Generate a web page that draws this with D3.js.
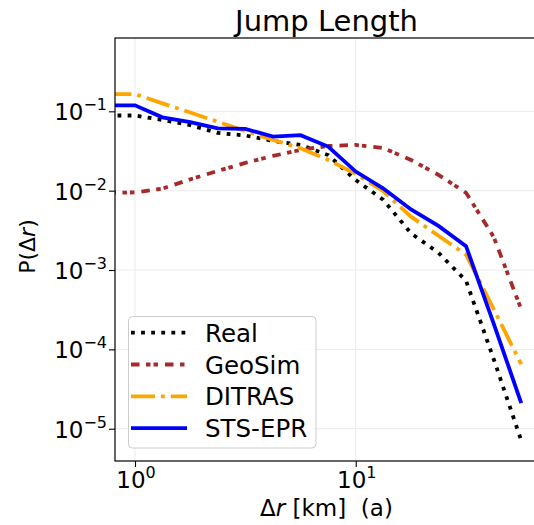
<!DOCTYPE html>
<html>
<head>
<meta charset="utf-8">
<script src="https://cdn.jsdelivr.net/npm/d3@7"></script>
<style>
  body { margin: 0; background: #fff; }
  svg text { font-family: "DejaVu Sans", sans-serif; fill: #000; }
</style>
</head>
<body>
<div id="chart"></div>
<script>
// jump length bins (km)
var jumpKm = [0.75, 1.0, 1.33, 1.78, 2.37, 3.16, 4.22, 5.62, 7.5, 10.0, 13.3, 17.8, 23.7, 31.6, 42.2, 56.2];

// P(dr) for each model
var realP   = [0.0885, 0.0885, 0.0778, 0.0671, 0.0533, 0.0496, 0.0423, 0.0376, 0.0281, 0.0136, 0.0077, 0.0029, 0.00165, 0.00073, 0.000075, 0.0000071];
var geoSimP = [0.0094, 0.0095, 0.0106, 0.0139, 0.0177, 0.0224, 0.0274, 0.0326, 0.0366, 0.0377, 0.0345, 0.0244, 0.0158, 0.0094, 0.0026, 0.00032];
var ditrasP = [0.165, 0.165, 0.126, 0.0966, 0.0738, 0.0565, 0.0435, 0.0343, 0.0244, 0.0163, 0.0099, 0.0047, 0.0027, 0.00156, 0.00032, 0.000065];
var stsEprP = [0.119, 0.119, 0.084, 0.073, 0.061, 0.060, 0.048, 0.050, 0.036, 0.0174, 0.0107, 0.0058, 0.0036, 0.0020, 0.00021, 0.000021];

var seriesNames = ["Real", "GeoSim", "DITRAS", "STS-EPR"];
var xTickExp = [0, 1];
var yTickExp = [-1, -2, -3, -4, -5];

(function() {
    var width = 534, height = 525;
    var margin = {top: 38, right: 0, bottom: 64, left: 115};
    var w = width - margin.left - margin.right;
    var h = height - margin.top - margin.bottom;

    var x = d3.scaleLog().domain([0.8116, 64.2]).range([0, w]);
    var y = d3.scaleLog().domain([3.92e-6, 0.839]).range([h, 0]);

    var svg = d3.select("#chart").append("svg")
        .attr("width", width)
        .attr("height", height);

    var g = svg.append("g")
        .attr("transform", "translate(" + margin.left + "," + margin.top + ")");

    //grid at major ticks
    g.selectAll(".gx").data(xTickExp).enter().append("line")
        .attr("x1", function(d) { return x(Math.pow(10, d)); })
        .attr("x2", function(d) { return x(Math.pow(10, d)); })
        .attr("y1", 0).attr("y2", h)
        .attr("stroke", "#ebebeb").attr("stroke-width", 1);
    g.selectAll(".gy").data(yTickExp).enter().append("line")
        .attr("y1", function(d) { return y(Math.pow(10, d)); })
        .attr("y2", function(d) { return y(Math.pow(10, d)); })
        .attr("x1", 0).attr("x2", w)
        .attr("stroke", "#ebebeb").attr("stroke-width", 1);

    //lines
    svg.append("defs").append("clipPath").attr("id", "clip")
        .append("rect").attr("width", w).attr("height", h);

    var series = [
        {name: seriesNames[0], values: realP,   color: "#000000", dash: "3.8,6.3"},
        {name: seriesNames[1], values: geoSimP, color: "#a52a2a", dash: "8.5,6.5,4.5,3,4.5,7"},
        {name: seriesNames[2], values: ditrasP, color: "#ffa500", dash: "24,6,3.8,6"},
        {name: seriesNames[3], values: stsEprP, color: "#0000ff", dash: null}
    ];

    var line = d3.line()
        .x(function(d, i) { return x(jumpKm[i]); })
        .y(function(d) { return y(d); });

    g.append("g").attr("clip-path", "url(#clip)")
        .selectAll("path").data(series).enter().append("path")
        .attr("d", function(d) { return line(d.values); })
        .attr("fill", "none")
        .attr("stroke", function(d) { return d.color; })
        .attr("stroke-width", 3.8)
        .attr("stroke-dasharray", function(d) { return d.dash; });

    //minor ticks
    var xMinor = [], yMinor = [];
    [-1, 0, 1].forEach(function(e) {
        for (var m = 2; m < 10; m++) xMinor.push(m * Math.pow(10, e));
    });
    [-6, -5, -4, -3, -2, -1].forEach(function(e) {
        for (var m = 2; m < 10; m++) yMinor.push(m * Math.pow(10, e));
    });
    xMinor = xMinor.filter(function(v) { return v > 0.8116 && v < 64.2; });
    yMinor = yMinor.filter(function(v) { return v > 3.92e-6 && v < 0.839; });

    var axX = g.append("g").attr("transform", "translate(0," + h + ")");
    axX.call(d3.axisBottom(x).tickValues(xMinor).tickSize(3.5).tickFormat(""));
    axX.call(d3.axisBottom(x).tickValues(xTickExp.map(function(e) { return Math.pow(10, e); }))
        .tickSize(6).tickPadding(4).tickFormat(""));

    var axY = g.append("g");
    axY.call(d3.axisLeft(y).tickValues(yMinor).tickSize(3.5).tickFormat(""));
    axY.call(d3.axisLeft(y).tickValues(yTickExp.map(function(e) { return Math.pow(10, e); }))
        .tickSize(6).tickFormat(""));

    svg.selectAll(".domain").remove();
    svg.selectAll(".tick line").attr("stroke", "#000").attr("stroke-width", 1.1);

    //tick labels as 10^n
    function powLabel(sel, e) {
        sel.append("tspan").text("10");
        sel.append("tspan").attr("font-size", "16px").attr("dy", -10)
            .text(e < 0 ? "\u2212" + (-e) : e);
    }
    xTickExp.forEach(function(e) {
        var t = g.append("text")
            .attr("x", x(Math.pow(10, e)) + 1)
            .attr("y", h + 27)
            .attr("text-anchor", "middle")
            .attr("font-size", "23px");
        powLabel(t, e);
    });
    yTickExp.forEach(function(e) {
        var t = g.append("text")
            .attr("x", -8)
            .attr("y", y(Math.pow(10, e)) + 9)
            .attr("text-anchor", "end")
            .attr("font-size", "23px");
        powLabel(t, e);
    });

    //frame
    g.append("rect")
        .attr("x", 0).attr("y", 0)
        .attr("width", w + 1).attr("height", h)
        .attr("fill", "none").attr("stroke", "#000").attr("stroke-width", 1.2);

    //title and axis titles
    svg.append("text")
        .attr("x", margin.left + w / 2 + 2)
        .attr("y", 31)
        .attr("text-anchor", "middle")
        .attr("font-size", "29px")
        .text("Jump Length");

    var xl = svg.append("text")
        .attr("x", margin.left + w / 2 + 2)
        .attr("y", 516)
        .attr("text-anchor", "middle")
        .attr("font-size", "23px");
    xl.append("tspan").text("\u0394");
    xl.append("tspan").attr("font-style", "italic").text("r");
    xl.append("tspan").text(" [km]\u00a0\u00a0(a)");

    var yl = svg.append("text")
        .attr("transform", "translate(35," + (margin.top + h / 2 - 3) + ") rotate(-90)")
        .attr("text-anchor", "middle")
        .attr("font-size", "22px");
    yl.append("tspan").text("P(\u0394");
    yl.append("tspan").attr("font-style", "italic").text("r");
    yl.append("tspan").text(")");

    //legend
    var lg = svg.append("g");
    lg.append("rect")
        .attr("x", 128.5).attr("y", 316.5)
        .attr("width", 187.5).attr("height", 131.5)
        .attr("rx", 4)
        .attr("fill", "#fff").attr("fill-opacity", 0.8)
        .attr("stroke", "#cccccc").attr("stroke-width", 1);

    var row = lg.selectAll(".row").data(series).enter().append("g")
        .attr("transform", function(d, i) { return "translate(0," + (332.7 + i * 31.8) + ")"; });
    row.append("line")
        .attr("x1", 131).attr("x2", 187)
        .attr("stroke", function(d) { return d.color; })
        .attr("stroke-width", 3.8)
        .attr("stroke-dasharray", function(d) { return d.dash; });
    row.append("text")
        .attr("x", 205).attr("y", 9)
        .attr("font-size", "24.5px")
        .text(function(d) { return d.name; });
})();
</script>
</body>
</html>
